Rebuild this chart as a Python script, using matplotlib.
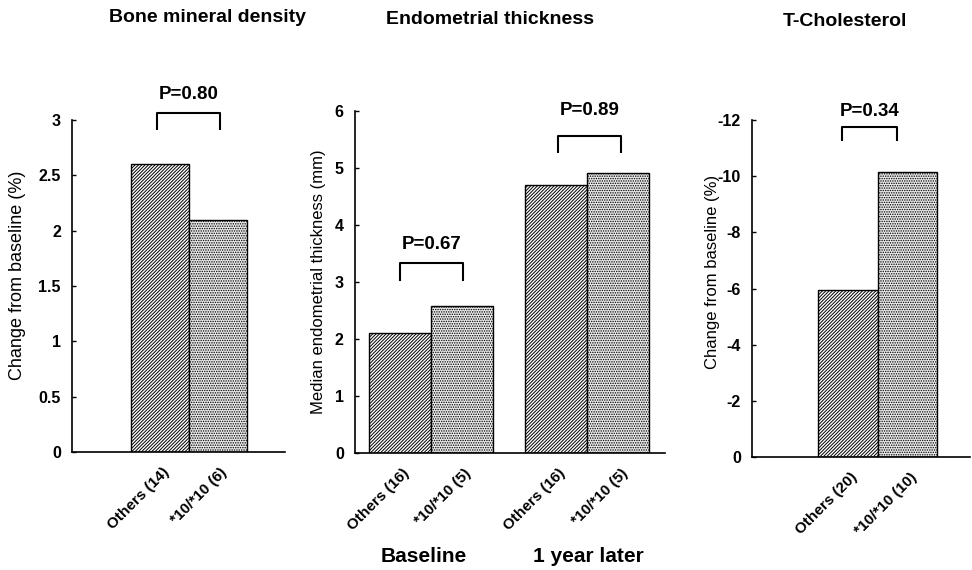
import matplotlib
matplotlib.use("Agg")
import matplotlib.pyplot as plt
from matplotlib.transforms import ScaledTranslation

plt.rcParams['font.family'] = ['Liberation Sans', 'DejaVu Sans']
plt.rcParams['hatch.linewidth'] = 0.7
plt.rcParams['axes.unicode_minus'] = False

# ---------------- data ----------------
bmd_labels = ["Others (14)", "*10/*10 (6)"]
bmd_values = [2.6, 2.1]
bmd_p = "P=0.80"

endo_labels = ["Others (16)", "*10/*10 (5)", "Others (16)", "*10/*10 (5)"]
endo_values = [2.1, 2.58, 4.7, 4.92]
endo_groups = ["Baseline", "1 year later"]
endo_p = ["P=0.67", "P=0.89"]

chol_labels = ["Others (20)", "*10/*10 (10)"]
chol_values = [-5.95, -10.15]
chol_p = "P=0.34"

titles = ["Bone mineral density", "Endometrial thickness", "T-Cholesterol"]

hatch_a = "/" * 10
hatch_b = "." * 7
face_b = "#ebebeb"

fig = plt.figure(figsize=(9.72, 5.7), dpi=100)

def style(ax):
    for s in ["top", "right"]:
        ax.spines[s].set_visible(False)
    ax.spines["left"].set_linewidth(1.2)
    ax.spines["bottom"].set_linewidth(1.2)
    ax.tick_params(axis="y", direction="in", length=3, width=1, labelsize=11.5, pad=8)
    ax.tick_params(axis="x", length=0, labelsize=11, pad=6)
    for t in ax.get_yticklabels():
        t.set_fontweight("bold")

def xlabels(ax, pos, labels):
    ax.set_xticks(pos)
    ax.set_xticklabels(labels, rotation=45, ha="right", va="center",
                       rotation_mode="anchor", fontweight="bold")
    off = ScaledTranslation(7/100, -10/100, fig.dpi_scale_trans)
    for t in ax.get_xticklabels():
        t.set_transform(t.get_transform() + off)

def bars(ax, pos, vals):
    for i, (x, v) in enumerate(zip(pos, vals)):
        if i % 2 == 0:
            ax.bar(x, v, width=1.0, facecolor="white", edgecolor="black",
                   hatch=hatch_a, linewidth=1.0)
        else:
            ax.bar(x, v, width=1.0, facecolor=face_b, edgecolor="black",
                   hatch=hatch_b, linewidth=1.0)

def bracket(ax, x0, x1, ytop, ybot, ytext, txt):
    ax.plot([x0, x0, x1, x1], [ybot, ytop, ytop, ybot], color="black",
            lw=1.5, clip_on=False, solid_capstyle="butt")
    ax.text((x0 + x1) / 2, ytext, txt, ha="center", va="center",
            fontsize=13.5, fontweight="bold", clip_on=False)

# ---------------- panel 1 ----------------
ax1 = fig.add_axes([0.0741, 0.2070, 0.2191, 0.5825])
pos1 = [0, 1]
bars(ax1, pos1, bmd_values)
ax1.set_ylim(0, 3)
ax1.set_xlim(-1.52, 2.16)
ax1.set_yticks([0, 0.5, 1, 1.5, 2, 2.5, 3])
ax1.set_yticklabels(["0", "0.5", "1", "1.5", "2", "2.5", "3"])
style(ax1)
xlabels(ax1, pos1, bmd_labels)
bracket(ax1, -0.05, 1.03, 3.06, 2.91, 3.23, bmd_p)

# ---------------- panel 2 ----------------
ax2 = fig.add_axes([0.3652, 0.2053, 0.3189, 0.6000])
pos2 = [0, 1, 2.52, 3.52]
bars(ax2, pos2, endo_values)
ax2.set_ylim(0, 6)
ax2.set_xlim(-0.73, 4.27)
ax2.set_yticks(range(0, 7))
style(ax2)
xlabels(ax2, pos2, endo_labels)
bracket(ax2, 0.0, 1.01, 3.33, 3.02, 3.65, endo_p[0])
bracket(ax2, 2.55, 3.56, 5.56, 5.26, 6.0, endo_p[1])

# ---------------- panel 3 ----------------
ax3 = fig.add_axes([0.7737, 0.1982, 0.2243, 0.5913])
pos3 = [0, 1]
bars(ax3, pos3, chol_values)
ax3.set_ylim(0, -12)
ax3.set_xlim(-1.61, 2.05)
ax3.set_yticks(range(0, -13, -2))
style(ax3)
xlabels(ax3, pos3, chol_labels)
bracket(ax3, -0.1, 0.83, -11.76, -11.25, -12.3, chol_p)

# ---------------- titles / labels ----------------
fig.text(207/972, 1 - 18/570, titles[0], ha="center", va="center", fontsize=14, fontweight="bold")
fig.text(490/972, 1 - 20/570, titles[1], ha="center", va="center", fontsize=14, fontweight="bold")
fig.text(845/972, 1 - 22/570, titles[2], ha="center", va="center", fontsize=14, fontweight="bold")

fig.text(18/972, 1 - 275/570, "Change from baseline (%)", rotation=90, ha="center", va="center", fontsize=13)
fig.text(318/972, 1 - 282/570, "Median endometrial thickness (mm)", rotation=90, ha="center", va="center", fontsize=12)
fig.text(713/972, 1 - 272/570, "Change from baseline (%)", rotation=90, ha="center", va="center", fontsize=12)

fig.text(424/972, 1 - 556/570, endo_groups[0], ha="center", va="center", fontsize=15, fontweight="bold")
fig.text(588/972, 1 - 556/570, endo_groups[1], ha="center", va="center", fontsize=15, fontweight="bold")

fig.savefig("out.png", dpi=100)
